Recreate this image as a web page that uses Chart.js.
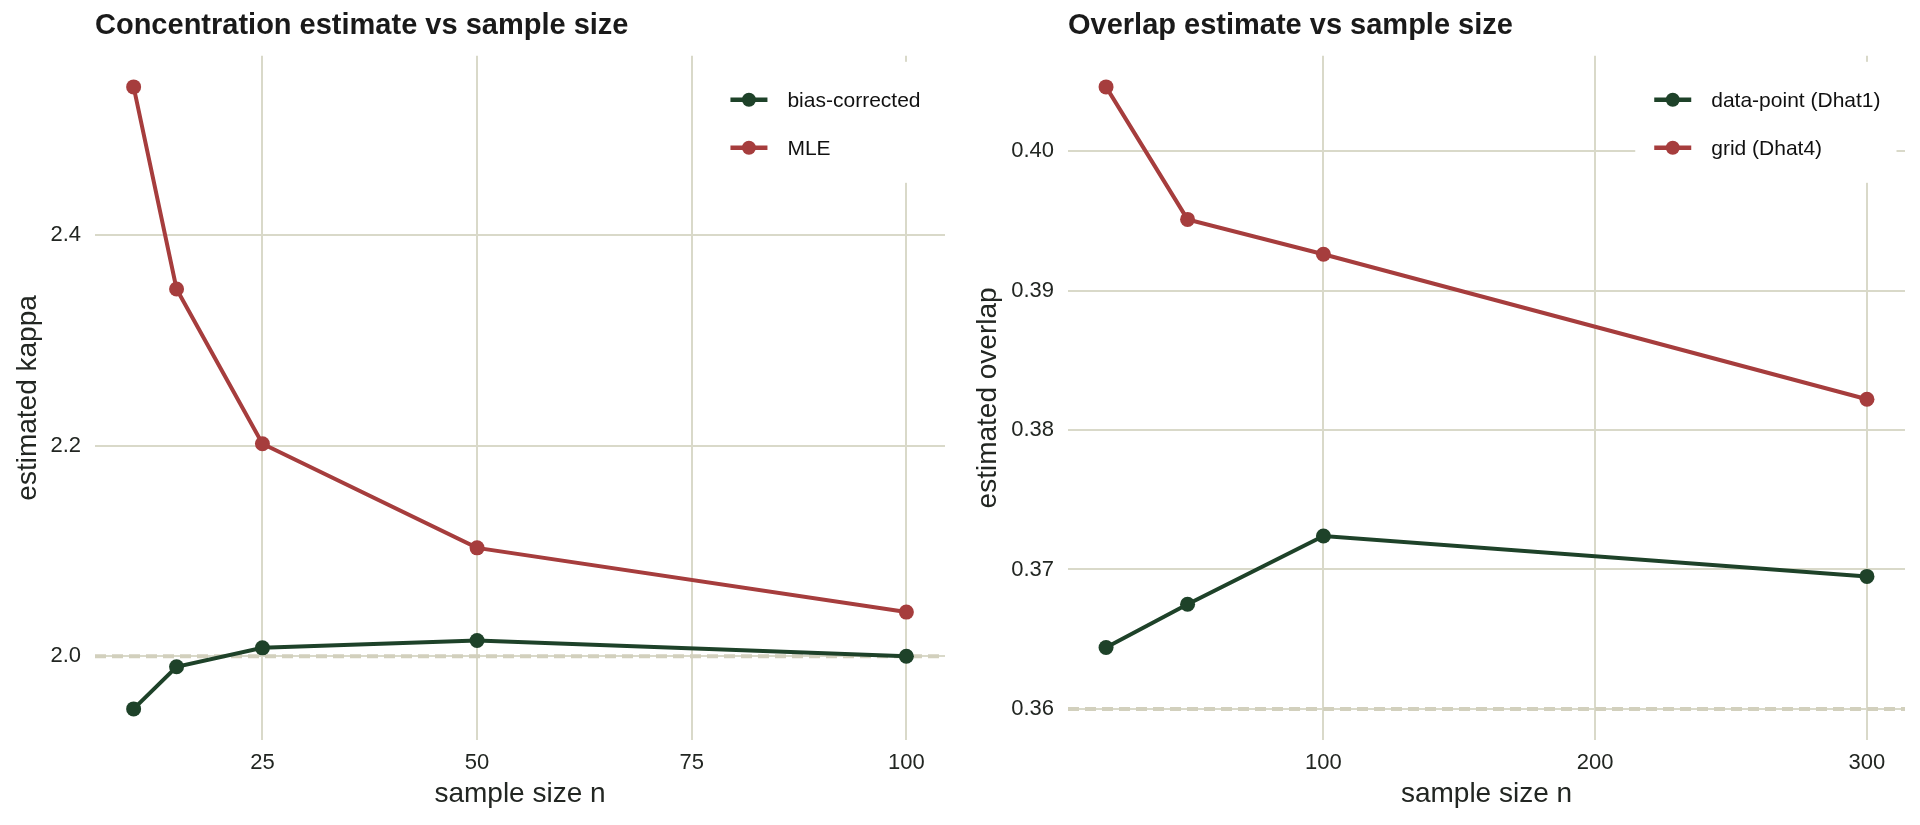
<!DOCTYPE html>
<html>
<head>
<meta charset="utf-8">
<script src="https://cdn.jsdelivr.net/npm/chart.js@4.4.1/dist/chart.umd.min.js"></script>
<style>
  html, body { margin: 0; padding: 0; background: #fff; }
  #wrap { position: relative; width: 1920px; height: 825px; }
  .panel { position: absolute; top: 0; width: 960px; height: 825px; }
</style>
</head>
<body>
<div id="wrap">
  <div class="panel" style="left:0"><canvas id="kappaChart" width="960" height="825"></canvas></div>
  <div class="panel" style="left:960px"><canvas id="overlapChart" width="960" height="825"></canvas></div>
</div>
<script>
const kappaN = [10, 15, 25, 50, 100];
const kappaBiasCorrected = [1.950, 1.990, 2.008, 2.015, 2.000];
const kappaMLE = [2.541, 2.349, 2.202, 2.103, 2.042];
const kappaTrue = 2.0;
const kappaTicksX = [25, 50, 75, 100];
const kappaTicksY = [2.0, 2.2, 2.4];

const overlapN = [20, 50, 100, 300];
const overlapDataPoint = [0.3644, 0.3675, 0.3724, 0.3695];
const overlapGrid = [0.4046, 0.3951, 0.3926, 0.3822];
const overlapTrue = 0.36;
const overlapTicksX = [100, 200, 300];
const overlapTicksY = [0.36, 0.37, 0.38, 0.39, 0.40];

const GREEN = '#1e4229';
const RED = '#a63d3d';
const GRID = '#d9d9c9';
const REF = '#d2d0bd';
const INK = '#222622';
const FONT = "'Liberation Sans', Arial, Helvetica, sans-serif";

// ggplot-style 5% padding around the data range
function expand(values) {
    const lo = Math.min(...values), hi = Math.max(...values);
    const pad = (hi - lo) * 0.05;
    return { min: lo - pad, max: hi + pad };
}

// dashed reference line and the legend box inside the panel
const panelExtras = {
    id: 'panelExtras',
    beforeDatasetsDraw(chart, args, opts) {
        const { ctx, chartArea: area, scales } = chart;
        const y = scales.y.getPixelForValue(opts.refValue);
        ctx.save();
        ctx.strokeStyle = REF;
        ctx.lineWidth = 4;
        ctx.setLineDash([11, 6]);
        ctx.beginPath();
        ctx.moveTo(area.left, y);
        ctx.lineTo(area.right, y);
        ctx.stroke();
        ctx.setLineDash([]);

        ctx.font = '21px ' + FONT;
        const sets = chart.data.datasets;
        const textW = Math.max(...sets.map(d => ctx.measureText(d.label).width));
        const boxW = 19 + 37 + 20 + textW + 16;
        const boxR = area.right - 8.5;
        const boxT = area.top + 6;
        const boxL = boxR - boxW;
        ctx.fillStyle = '#fff';
        ctx.fillRect(boxL, boxT, boxW, 121);
        ctx.textBaseline = 'middle';
        ctx.textAlign = 'left';
        sets.forEach((d, i) => {
            const ry = boxT + 38 + i * 48;
            const kx = boxL + 19;
            ctx.strokeStyle = d.borderColor;
            ctx.lineWidth = 4.5;
            ctx.beginPath();
            ctx.moveTo(kx, ry);
            ctx.lineTo(kx + 37, ry);
            ctx.stroke();
            ctx.fillStyle = d.borderColor;
            ctx.beginPath();
            ctx.arc(kx + 18.5, ry, 7, 0, Math.PI * 2);
            ctx.fill();
            ctx.fillStyle = '#111';
            ctx.fillText(d.label, kx + 37 + 20, ry + 1);
        });
        ctx.restore();
    }
};

function makeChart(el, cfg) {
    const xr = expand(cfg.x);
    const yr = expand([...cfg.series[0].data, ...cfg.series[1].data, cfg.ref]);
    return new Chart(el, {
        type: 'line',
        data: {
            datasets: cfg.series.map(s => ({
                label: s.label,
                data: cfg.x.map((n, i) => ({ x: n, y: s.data[i] })),
                borderColor: s.color,
                backgroundColor: s.color,
                pointBackgroundColor: s.color,
                pointBorderWidth: 0,
                pointRadius: 7.5,
                borderWidth: 4,
                tension: 0,
            })),
        },
        options: {
            responsive: false,
            animation: false,
            layout: { padding: { right: 15 } },
            plugins: {
                legend: { display: false },
                tooltip: { enabled: false },
                title: {
                    display: true,
                    text: cfg.title,
                    align: 'start',
                    fullSize: false,
                    color: '#1a1a1a',
                    font: { family: FONT, size: 29, weight: 'bold' },
                    padding: { top: 9, bottom: 12 },
                },
                panelExtras: { refValue: cfg.ref },
            },
            scales: {
                x: {
                    type: 'linear',
                    min: xr.min,
                    max: xr.max,
                    border: { display: false },
                    grid: { color: GRID, lineWidth: 2, drawTicks: false },
                    afterBuildTicks: s => { s.ticks = cfg.ticksX.map(v => ({ value: v })); },
                    afterFit: s => { s.height = 85; },
                    ticks: { color: INK, font: { family: FONT, size: 22 }, padding: 10, maxRotation: 0 },
                    title: {
                        display: true,
                        text: 'sample size n',
                        color: INK,
                        font: { family: FONT, size: 28 },
                        padding: { top: 0, bottom: 14 },
                    },
                },
                y: {
                    type: 'linear',
                    min: yr.min,
                    max: yr.max,
                    border: { display: false },
                    grid: { color: GRID, lineWidth: 2, drawTicks: false },
                    afterBuildTicks: s => { s.ticks = cfg.ticksY.map(v => ({ value: v })); },
                    afterFit: s => { s.width = cfg.yWidth; },
                    ticks: {
                        color: INK,
                        font: { family: FONT, size: 22 },
                        padding: 14,
                        callback: v => Number(v).toFixed(cfg.digits),
                    },
                    title: {
                        display: true,
                        text: cfg.yTitle,
                        color: INK,
                        font: { family: FONT, size: 28 },
                        padding: { top: 11, bottom: 0 },
                    },
                },
            },
        },
        plugins: [panelExtras],
    });
}

makeChart(document.getElementById('kappaChart'), {
    title: 'Concentration estimate vs sample size',
    yTitle: 'estimated kappa',
    x: kappaN,
    ticksX: kappaTicksX,
    ticksY: kappaTicksY,
    ref: kappaTrue,
    digits: 1,
    yWidth: 95,
    series: [
        { label: 'bias-corrected', data: kappaBiasCorrected, color: GREEN },
        { label: 'MLE', data: kappaMLE, color: RED },
    ],
});

makeChart(document.getElementById('overlapChart'), {
    title: 'Overlap estimate vs sample size',
    yTitle: 'estimated overlap',
    x: overlapN,
    ticksX: overlapTicksX,
    ticksY: overlapTicksY,
    ref: overlapTrue,
    digits: 2,
    yWidth: 108,
    series: [
        { label: 'data-point (Dhat1)', data: overlapDataPoint, color: GREEN },
        { label: 'grid (Dhat4)', data: overlapGrid, color: RED },
    ],
});
</script>
</body>
</html>
